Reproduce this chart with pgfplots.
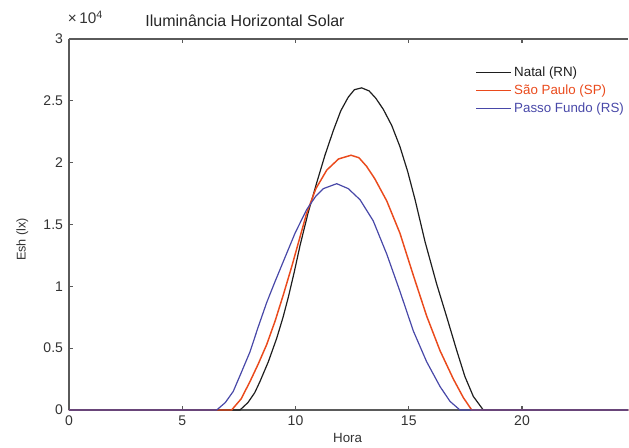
\documentclass[border=0pt]{standalone}
\usepackage{fontspec}
\setmainfont{Liberation Sans}
\usepackage{pgfplots}
\usepackage{pgfplotstable}
\pgfplotsset{compat=1.18}
\definecolor{natal}{HTML}{1E1E1E}
\definecolor{saopaulo}{HTML}{EA4A1C}
\definecolor{passo}{HTML}{4848A8}
\definecolor{axisgray}{HTML}{5A5A5A}

% data: hour, illuminance (lx)
\pgfplotstableread{
h E
0 0
7.55 0
7.90 600
8.20 1400
8.43 2300
8.80 3900
9.17 5800
9.45 7500
9.68 9100
9.95 11200
10.20 13300
10.55 15900
10.94 18400
11.30 20600
11.67 22600
12.00 24200
12.33 25300
12.60 25900
12.92 26050
13.25 25800
13.55 25200
13.88 24300
14.25 23000
14.61 21300
14.95 19300
15.28 17000
15.72 13600
16.23 10200
16.68 7500
17.12 4800
17.48 2700
17.85 1100
18.29 0
24.7 0
}\natal

\pgfplotstableread{
h E
0 0
7.18 0
7.60 900
7.99 2300
8.35 3700
8.73 5300
9.10 7200
9.46 9300
9.85 11700
10.20 14000
10.49 15900
10.90 17900
11.38 19400
11.90 20300
12.45 20600
12.80 20400
13.14 19700
13.50 18700
14.03 16900
14.61 14300
15.20 10900
15.79 7600
16.38 4800
16.97 2500
17.41 1000
17.78 0
24.7 0
}\saopaulo

\pgfplotstableread{
h E
0 0
6.52 0
6.90 600
7.25 1500
7.60 3000
7.99 4700
8.35 6700
8.73 8700
9.10 10400
9.46 12000
9.98 14300
10.49 16200
10.90 17300
11.23 17900
11.82 18300
12.33 17900
12.85 17000
13.43 15300
14.03 12600
14.61 9600
15.20 6400
15.79 3900
16.38 1900
16.82 700
17.26 0
24.7 0
}\passo

\begin{document}
\begin{tikzpicture}
\begin{axis}[
  scale only axis,
  width=419.6pt,
  height=278.25pt,
  xmin=0, xmax=24.7,
  ymin=0, ymax=30000,
  axis x line*=box,
  axis y line*=left,
  axis line style={axisgray, line width=0.8pt, -},
  every outer x axis line/.append style={-},
  every outer y axis line/.append style={-},
  tick align=inside,
  major tick length=3pt,
  tick style={axisgray, line width=0.8pt},
  xtick={0,5,10,15,20},
  ytick={0,5000,10000,15000,20000,25000,30000},
  ytick pos=left,
  scaled y ticks=base 10:-4,
  ytick scale label code/.code={×\,10\textsuperscript{#1}},
  every y tick scale label/.style={at={(rel axis cs:0,1)}, anchor=south west, inner sep=0pt, yshift=11pt, font=\fontsize{11.5}{13}\selectfont},
  /pgf/number format/assume math mode=true,
  tick label style={font=\fontsize{10.5}{12}\selectfont, text=black!80},
  xticklabel style={yshift=-1pt},
  yticklabel style={xshift=-1pt},
  xlabel={Hora},
  ylabel={Esh (lx)},
  xlabel style={at={(rel axis cs:0.498,0)}, anchor=center, yshift=-21pt, font=\fontsize{10}{12}\selectfont, text=black!80},
  ylabel style={at={(rel axis cs:0,0.46)}, anchor=center, yshift=35pt, font=\fontsize{9.5}{12}\selectfont, text=black!80},
  legend style={at={(rel axis cs:0.726,0.935)}, anchor=north west, draw=none, fill=none, inner sep=0pt,
    font=\fontsize{10}{12}\selectfont,
    nodes={text height=7.5pt, text depth=2pt, inner sep=2pt}, row sep=0pt},
  legend image code/.code={\draw[#1] (0pt,0pt) -- (26pt,0pt);},
  legend cell align=left,
  clip=false,
]
\addplot[natal, line width=0.9pt] table[x=h, y=E] {\natal};
\addlegendentry{\textcolor{natal}{Natal (RN)}}
\addplot[saopaulo, line width=1.1pt] table[x=h, y=E] {\saopaulo};
\addlegendentry{\textcolor{saopaulo}{São Paulo (SP)}}
\addplot[passo, line width=0.9pt] table[x=h, y=E] {\passo};
\addlegendentry{\textcolor{passo}{Passo Fundo (RS)}}
\end{axis}
\node[font=\fontsize{12}{14}\selectfont, text=black!85, anchor=center] at (132pt,291.75pt) {Iluminância Horizontal Solar};
\pgfresetboundingbox
\useasboundingbox (-51.75pt,-27.75pt) rectangle (420pt,307.5pt);
\end{tikzpicture}
\end{document}
